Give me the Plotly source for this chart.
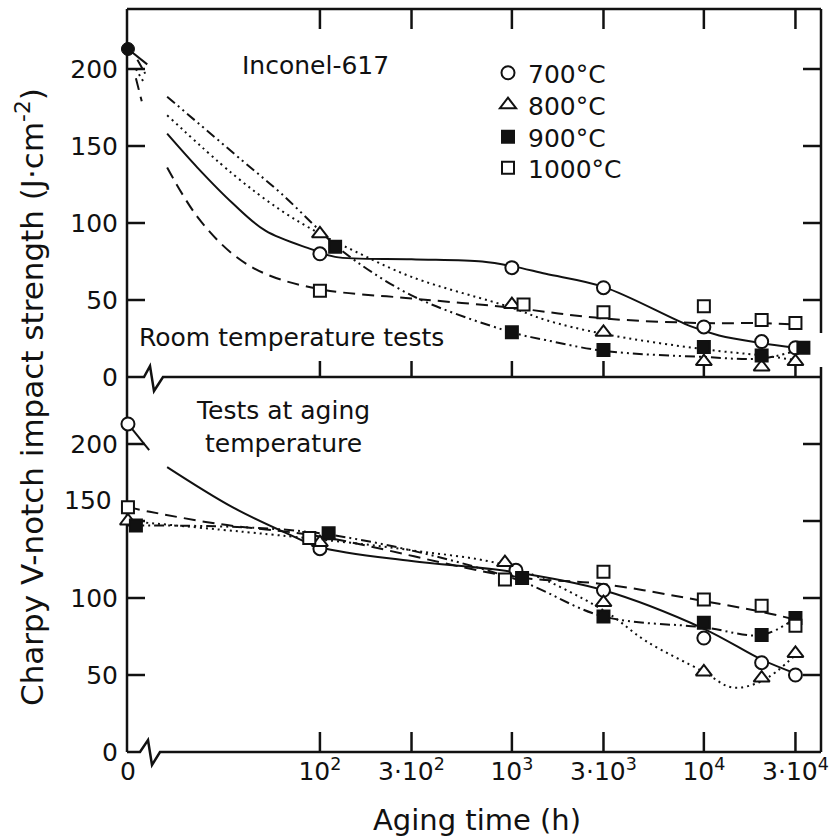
import math
import plotly.graph_objects as go

FONT = "DejaVu Sans"
INK = "#111111"

# Zero aging time sits on a broken log axis; this is where "0" is placed.
T0 = 10

# ---------------- Room temperature tests (upper panel) ----------------
rt_hours_700 = [100, 1000, 3000, 10000, 20000, 30000]
rt_700 = [80, 71, 58, 32.5, 23, 19]
rt_hours_800 = [100, 1000, 3000, 10000, 20000, 30000]
rt_800 = [93, 47, 29, 10, 6.5, 10]
rt_hours_900 = [120, 1000, 3000, 10000, 20000, 33000]
rt_900 = [84.5, 29, 17.5, 19.5, 14, 19]
rt_hours_1000 = [100, 1150, 3000, 10000, 20000, 30000]
rt_1000 = [56, 47, 42, 46, 37, 35]

rt_initial_hours = [T0]
rt_initial = [213]

# fitted trend curves
rt_fit_hours_700 = [16, 23, 35, 52, 90, 120, 300, 700, 1000, 1500, 3000, 8500, 12000, 20000, 30000]
rt_fit_700 = [158, 136, 113, 95, 83, 78, 76.5, 75, 72, 67, 58.5, 33, 27, 22, 19]
rt_fit_hours_800 = [16, 35, 63, 100, 150, 300, 1000, 1500, 3000, 10000, 20000, 30000]
rt_fit_800 = [170, 132, 108, 93, 82, 65, 45, 37, 28, 18, 14, 11]
rt_fit_hours_900 = [16, 39, 63, 100, 130, 300, 1000, 1500, 3000, 10000, 20000, 30000]
rt_fit_900 = [182, 141, 119, 95, 82, 53, 29, 24, 17, 13, 12, 17]
rt_fit_hours_1000 = [16, 23, 35, 52, 100, 300, 1000, 3000, 10000, 20000, 30000]
rt_fit_1000 = [136, 104, 80, 67, 57, 51, 45, 38, 35, 35, 34]

# short strokes leaving the unaged value
rt_stub_hours_700 = [T0, 12.6]
rt_stub_700 = [213, 203]
rt_stub_hours_800 = [11.0, 12.0]
rt_stub_800 = [200, 192]
rt_stub_hours_900 = [11.2, 12.3]
rt_stub_900 = [206, 197]
rt_stub_hours_1000 = [11.0, 11.8]
rt_stub_1000 = [194, 179]

# ---------------- Tests at aging temperature (lower panel) ----------------
at_hours_700 = [T0, 100, 1050, 3000, 10000, 20000, 30000]
at_700 = [213, 132, 118, 105, 74, 58, 50]
at_hours_800 = [T0, 100, 920, 3000, 10000, 20000, 30000]
at_800 = [150, 136, 123, 97, 52, 48, 64]
at_hours_900 = [T0 * 1.1, 111, 1130, 3000, 10000, 20000, 30000]
at_900 = [147, 142, 113, 88, 84, 76, 87]
at_hours_1000 = [T0, 88, 920, 3000, 10000, 20000, 30000]
at_1000 = [159, 139, 112, 117, 99, 95, 82]

at_fit_hours_700 = [16, 35, 70, 100, 300, 1000, 3000, 10000, 20000, 30000]
at_fit_700 = [185, 159, 141, 133, 124, 117, 105, 80, 60, 51]
at_fit_hours_800 = [T0, 100, 300, 1000, 3000, 5000, 10000, 14000, 20000, 30000]
at_fit_800 = [150, 138, 131, 120, 92, 72, 52, 42, 46, 63]
at_fit_hours_900 = [T0, 100, 1000, 3000, 10000, 20000, 30000]
at_fit_900 = [147, 142, 113, 88, 81, 76, 87]
at_fit_hours_1000 = [T0, 13, 30, 100, 1000, 3000, 10000, 20000, 30000]
at_fit_1000 = [159, 156, 148, 140, 114, 109, 98, 91, 86]

at_stub_hours_700 = [T0, 12.9]
at_stub_700 = [213, 196]

# ---------------- axis labels ----------------
x_tickvals = [T0, 100, 300, 1000, 3000, 10000, 30000]
x_ticktext = ["0", "10<sup>2</sup>", "3·10<sup>2</sup>", "10<sup>3</sup>",
              "3·10<sup>3</sup>", "10<sup>4</sup>", "3·10<sup>4</sup>"]
y_tickvals = [0, 50, 100, 150, 200]
y_ticktext = ["0", "50", "100", "150", "200"]

series = ["700°C", "800°C", "900°C", "1000°C"]
dashes = {"700°C": "solid", "800°C": "2px,4px",
          "900°C": "10px,4px,2px,4px,2px,4px", "1000°C": "12px,7px"}
symbols = {"700°C": ("circle", "white", 13), "800°C": ("triangle-up", "white", 14),
           "900°C": ("square", INK, 12), "1000°C": ("square", "white", 12)}

rt_points = {"700°C": (rt_hours_700, rt_700), "800°C": (rt_hours_800, rt_800),
             "900°C": (rt_hours_900, rt_900), "1000°C": (rt_hours_1000, rt_1000)}
rt_fits = {"700°C": (rt_fit_hours_700, rt_fit_700), "800°C": (rt_fit_hours_800, rt_fit_800),
           "900°C": (rt_fit_hours_900, rt_fit_900), "1000°C": (rt_fit_hours_1000, rt_fit_1000)}
rt_stubs = {"700°C": (rt_stub_hours_700, rt_stub_700), "800°C": (rt_stub_hours_800, rt_stub_800),
            "900°C": (rt_stub_hours_900, rt_stub_900), "1000°C": (rt_stub_hours_1000, rt_stub_1000)}
at_points = {"700°C": (at_hours_700, at_700), "800°C": (at_hours_800, at_800),
             "900°C": (at_hours_900, at_900), "1000°C": (at_hours_1000, at_1000)}
at_fits = {"700°C": (at_fit_hours_700, at_fit_700), "800°C": (at_fit_hours_800, at_fit_800),
           "900°C": (at_fit_hours_900, at_fit_900), "1000°C": (at_fit_hours_1000, at_fit_1000)}

fig = go.Figure()


def add_line(xs, ys, name, xa, ya, smooth=True):
    fig.add_trace(go.Scatter(
        x=xs, y=ys, mode="lines", xaxis=xa, yaxis=ya, showlegend=False,
        line=dict(color=INK, width=2, dash=dashes[name],
                  shape="spline" if smooth else "linear", smoothing=1.0),
        hoverinfo="skip"))


def add_markers(xs, ys, name, xa, ya, legend=None):
    sym, fill, size = symbols[name]
    fig.add_trace(go.Scatter(
        x=xs, y=ys, mode="markers", xaxis=xa, yaxis=ya, name=name,
        showlegend=legend is not None, legend=legend or "legend", cliponaxis=False,
        marker=dict(symbol=sym, size=size, color=fill,
                    line=dict(color=INK, width=2))))


# curves first so that the symbols sit on top of them
for s in series:
    add_line(*rt_fits[s], s, "x", "y")
    add_line(*rt_stubs[s], s, "x", "y", smooth=False)
    add_line(*at_fits[s], s, "x2", "y2")
add_line(at_stub_hours_700, at_stub_700, "700°C", "x2", "y2", smooth=False)

fig.add_trace(go.Scatter(
    x=rt_initial_hours, y=rt_initial, mode="markers", xaxis="x", yaxis="y",
    showlegend=False, cliponaxis=False,
    marker=dict(symbol="circle", size=13, color=INK, line=dict(color=INK, width=1))))

legend_ids = ["legend", "legend2", "legend3", "legend4"]
for s, lg in zip(series, legend_ids):
    add_markers(*rt_points[s], s, "x", "y", legend=lg)
for s in series:
    add_markers(*at_points[s], s, "x2", "y2")

# ---------------- geometry of the frame ----------------
L, R, TOP, BOT = 127, 820, 9, 752          # plot area in pixels
MID = 377                                   # boundary between the panels
W, H = R - L, BOT - TOP
split = (BOT - MID) / H
X_RANGE = [0.995, 4.605]                    # log10 hours
Y_TOP_MAX = (MID - TOP) / 1.54
Y_BOT_MAX = (BOT - MID) / 1.54


def px(x):
    return (x - L) / W


def py(y):
    return (BOT - y) / H


def hours_to_paper(t):
    return (math.log10(t) - X_RANGE[0]) / (X_RANGE[1] - X_RANGE[0])


def top_to_paper(v):
    return split + v / Y_TOP_MAX * (1 - split)


def bottom_to_paper(v):
    return v / Y_BOT_MAX * split


def path(points):
    return "M " + " L ".join(f"{px(x):.5f},{py(y):.5f}" for x, y in points)


frame = dict(color=INK, width=2.5)
shapes = [
    dict(type="line", x0=px(L), x1=px(L), y0=py(TOP), y1=py(BOT), line=frame),
    dict(type="line", x0=px(L), x1=px(R + 1), y0=py(TOP), y1=py(TOP), line=frame),
    # right-hand border, interrupted beside the last data column
    dict(type="line", x0=px(R + 1), x1=px(R + 1), y0=py(TOP), y1=py(333), line=frame),
    dict(type="line", x0=px(R + 1), x1=px(R + 1), y0=py(367), y1=py(BOT), line=frame),
    # time axes with a break next to zero time
    dict(type="path", line=frame,
         path=path([(L, MID), (144, MID), (150, 366), (154, 391), (163, MID), (R + 1, MID)])),
    dict(type="path", line=frame,
         path=path([(L, BOT), (140, BOT), (148, 740), (152, 765), (160, BOT), (R + 1, BOT)])),
]

# inward tick marks on every side
TICK = 18
dx = TICK / W
for v in y_tickvals[1:]:
    for y in (top_to_paper(v), bottom_to_paper(v)):
        shapes.append(dict(type="line", x0=0, x1=dx, y0=y, y1=y, line=frame))
        shapes.append(dict(type="line", x0=px(R + 1), x1=px(R + 1) - dx, y0=y, y1=y, line=frame))
for t in x_tickvals[1:]:
    x = hours_to_paper(t)
    shapes.append(dict(type="line", x0=x, x1=x, y0=split, y1=split + 16 / H, line=frame))
    shapes.append(dict(type="line", x0=x, x1=x, y0=1, y1=1 - 20 / H, line=frame))
    shapes.append(dict(type="line", x0=x, x1=x, y0=0, y1=20 / H, line=frame))

for sh in shapes:
    sh.update(xref="paper", yref="paper", layer="below")

tickfont = dict(family=FONT, size=25, color=INK)
common_x = dict(type="log", range=X_RANGE, showgrid=False, zeroline=False,
                showline=False, ticks="")
common_y = dict(showgrid=False, zeroline=False, showline=False, ticks="",
                tickmode="array", tickfont=tickfont, ticklabelstandoff=8)

annotations = [
    dict(text="Inconel-617", x=px(240), y=py(66), xanchor="left", yanchor="middle"),
    dict(text="Room temperature tests", x=px(137), y=py(337), xanchor="left", yanchor="middle"),
    dict(text="Tests at aging<br>temperature", x=px(283), y=py(427), xanchor="center",
         yanchor="middle", align="center"),
    dict(text="Aging time (h)", x=px(477), y=py(820), xanchor="center", yanchor="middle",
         font=dict(family=FONT, size=29, color=INK)),
    dict(text="Charpy V-notch impact strength (J·cm<sup>-2</sup>)", x=px(30), y=py(397),
         xanchor="center", yanchor="middle", textangle=-90,
         font=dict(family=FONT, size=31, color=INK)),
    # lower-panel 150 label sits a little high, clear of the zero-time symbols
    dict(text="150", x=px(114), y=py(500), xanchor="right", yanchor="middle", font=tickfont),
]
for a in annotations:
    a.setdefault("font", dict(family=FONT, size=25, color=INK))
    a.update(xref="paper", yref="paper", showarrow=False)

legend_rows = [73, 105, 137, 168]
legend_style = dict(xanchor="left", yanchor="middle", font=dict(family=FONT, size=25, color=INK),
                    bgcolor="rgba(0,0,0,0)", itemwidth=30, borderwidth=0)
legends = {lg: dict(legend_style, x=px(488), y=py(row)) for lg, row in zip(legend_ids, legend_rows)}

fig.update_layout(
    width=837, height=836,
    margin=dict(l=L, r=837 - R, t=TOP, b=836 - BOT),
    paper_bgcolor="white", plot_bgcolor="white",
    font=dict(family=FONT, color=INK),
    xaxis=dict(common_x, anchor="y", domain=[0, 1], showticklabels=False),
    xaxis2=dict(common_x, anchor="y2", domain=[0, 1], tickmode="array", tickvals=x_tickvals,
                ticktext=x_ticktext, tickfont=tickfont, ticklabelstandoff=2),
    yaxis=dict(common_y, anchor="x", domain=[split, 1], range=[0, Y_TOP_MAX],
               tickvals=y_tickvals, ticktext=y_ticktext),
    yaxis2=dict(common_y, anchor="x2", domain=[0, split], range=[0, Y_BOT_MAX],
                tickvals=[v for v in y_tickvals if v != 150],
                ticktext=[t for v, t in zip(y_tickvals, y_ticktext) if v != 150]),
    shapes=shapes,
    annotations=annotations,
    **legends,
)

fig.write_html("out.html")
